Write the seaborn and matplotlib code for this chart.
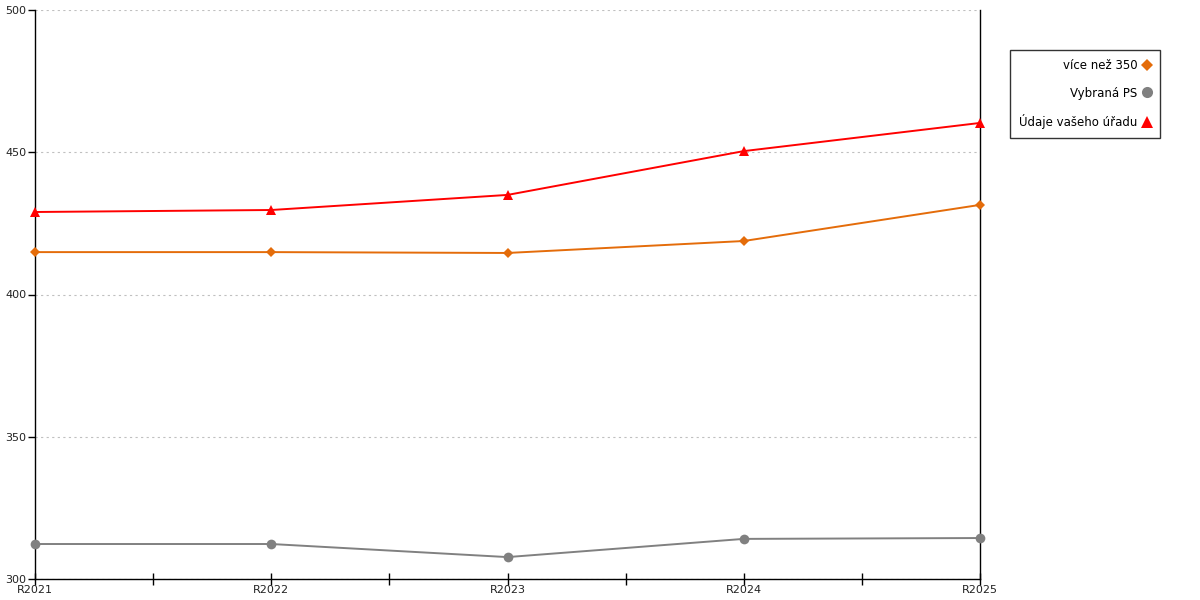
import numpy as np
import pandas as pd
import seaborn as sns
import matplotlib
matplotlib.use("Agg")
import matplotlib.pyplot as plt
from matplotlib.lines import Line2D
from matplotlib.ticker import FixedLocator

# data
years = ["R2021", "R2022", "R2023", "R2024", "R2025"]
series_names = ["více než 350", "Vybraná PS", "Údaje vašeho úřadu"]
vice_nez_350 = [414.9, 414.9, 414.6, 418.8, 431.5]
vybrana_ps = [312.3, 312.3, 307.7, 314.1, 314.4]
udaje_uradu = [429.0, 429.7, 435.0, 450.4, 460.3]

colors = {"více než 350": "#E46C0A", "Vybraná PS": "#808080", "Údaje vašeho úřadu": "#FF0000"}
markers = {"více než 350": "D", "Vybraná PS": "o", "Údaje vašeho úřadu": "^"}
msizes = {"více než 350": 5.5, "Vybraná PS": 7, "Údaje vašeho úřadu": 7}

df = pd.DataFrame({
    "year": years * 3,
    "value": vice_nez_350 + vybrana_ps + udaje_uradu,
    "series": [s for s in series_names for _ in years],
})

sns.set_style("white")
plt.rcParams['font.family'] = ['DejaVu Sans']
plt.rcParams['font.size'] = 8
plt.rcParams['text.color'] = 'black'
plt.rcParams['xtick.color'] = 'black'
plt.rcParams['ytick.color'] = 'black'
plt.rcParams['xtick.labelcolor'] = '#222222'
plt.rcParams['ytick.labelcolor'] = '#222222'

fig = plt.figure(figsize=(12, 6), dpi=100)
ax = fig.add_axes([35 / 1200, 1 - 579 / 600, (980 - 35) / 1200, (579 - 10) / 600])

# draw each series so markers can have their own size
for name in series_names:
    sub = df[df.series == name]
    sns.lineplot(data=sub, x="year", y="value", color=colors[name], marker=markers[name],
                 markersize=msizes[name], markeredgewidth=0, linewidth=1.4, ax=ax,
                 sort=False, clip_on=False, zorder=3)

ax.set_xlim(0, 4)
ax.set_ylim(300, 500)
ax.set_yticks([300, 350, 400, 450, 500])
ax.xaxis.set_minor_locator(FixedLocator([0.5, 1.5, 2.5, 3.5]))
ax.set_xlabel("")
ax.set_ylabel("")

ax.yaxis.grid(True, linestyle=(0, (2, 3)), color="#c0c0c0", linewidth=0.8)
ax.set_axisbelow(True)

for side in ["left", "bottom", "right"]:
    ax.spines[side].set_visible(True)
    ax.spines[side].set_color("black")
    ax.spines[side].set_linewidth(1)
ax.spines["top"].set_visible(False)

ax.tick_params(axis="x", which="both", direction="inout", length=8, width=1,
               labelsize=8, pad=0, bottom=True)
ax.tick_params(axis="y", which="major", direction="out", length=5, width=1,
               labelsize=8, pad=1, left=True)

handles = [Line2D([], [], linestyle="none", marker=markers[n], color=colors[n],
                  markersize=msizes[n] + 1, markeredgewidth=0) for n in series_names]
leg = fig.legend(handles, series_names, loc="upper left",
                 bbox_to_anchor=(1010 / 1200, 1 - 50 / 600), markerfirst=False,
                 frameon=True, fancybox=False, edgecolor="black", fontsize=8.5,
                 labelspacing=1.25, handlelength=0.8, handletextpad=0.4,
                 borderpad=0.75, borderaxespad=0)
leg.get_frame().set_linewidth(1)

fig.savefig("out.png", dpi=100)
